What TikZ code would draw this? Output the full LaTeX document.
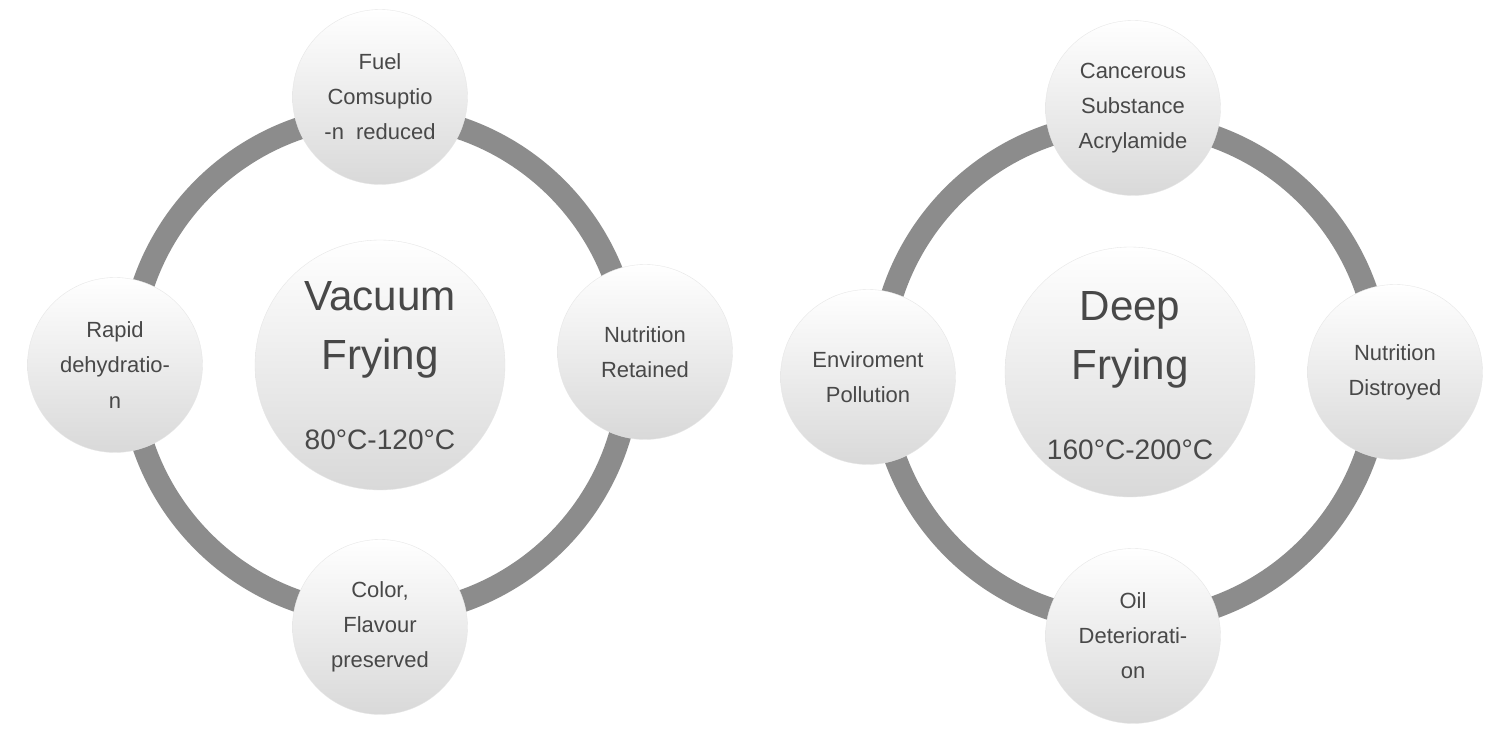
\documentclass[tikz,border=0pt]{standalone}
\usepackage{fontspec}
\setmainfont{Liberation Sans}
\definecolor{ringgray}{HTML}{8C8C8C}
\definecolor{txtgray}{HTML}{484848}
\tikzset{
  ball/.style={circle, top color=white, bottom color=gray!30, draw=gray!20, very thin,
    text=txtgray, align=center, font=\fontsize{12.5}{20}\selectfont, minimum size=#1},
  ball/.default=3.5cm,
  ring/.style={draw=ringgray, line width=0.45cm}
}
\begin{document}
\begin{tikzpicture}[x=0.02cm,y=-0.02cm]

%frame
\fill[white] (0,0) rectangle (1502,736);

%
%LEFT: vacuum frying
%
\draw[ring] (380,365) circle (5.0cm);
\node[ball=5.0cm] (vac) at (380,365) {};
\node[text=txtgray, font=\fontsize{24}{34}\selectfont, align=center] at (380,330) {Vacuum\\Frying};
\node[text=txtgray, font=\fontsize{16}{20}\selectfont] at (380,440) {80\textdegree C-120\textdegree C};

\node[ball] (fuel) at (380,97) {Fuel\\Comsuptio\\-n\ \ reduced};
\node[ball] (rapid) at (115,365) {Rapid\\dehydratio-\\n};
\node[ball] (nutr) at (645,352) {Nutrition\\Retained};
\node[ball] (color) at (380,627) {Color,\\Flavour\\preserved};

%
%RIGHT: deep frying
%
\draw[ring] (1130,372) circle (5.0cm);
\node[ball=5.0cm] (deep) at (1130,372) {};
\node[text=txtgray, font=\fontsize{24}{34}\selectfont, align=center] at (1130,340) {Deep\\Frying};
\node[text=txtgray, font=\fontsize{16}{20}\selectfont] at (1130,450) {160\textdegree C-200\textdegree C};

\node[ball] (canc) at (1133,108) {Cancerous\\Substance\\Acrylamide};
\node[ball] (env) at (868,377) {Enviroment\\Pollution};
\node[ball] (nutd) at (1395,372) {Nutrition\\Distroyed};
\node[ball] (oil) at (1133,636) {Oil\\Deteriorati-\\on};

\end{tikzpicture}
\end{document}
